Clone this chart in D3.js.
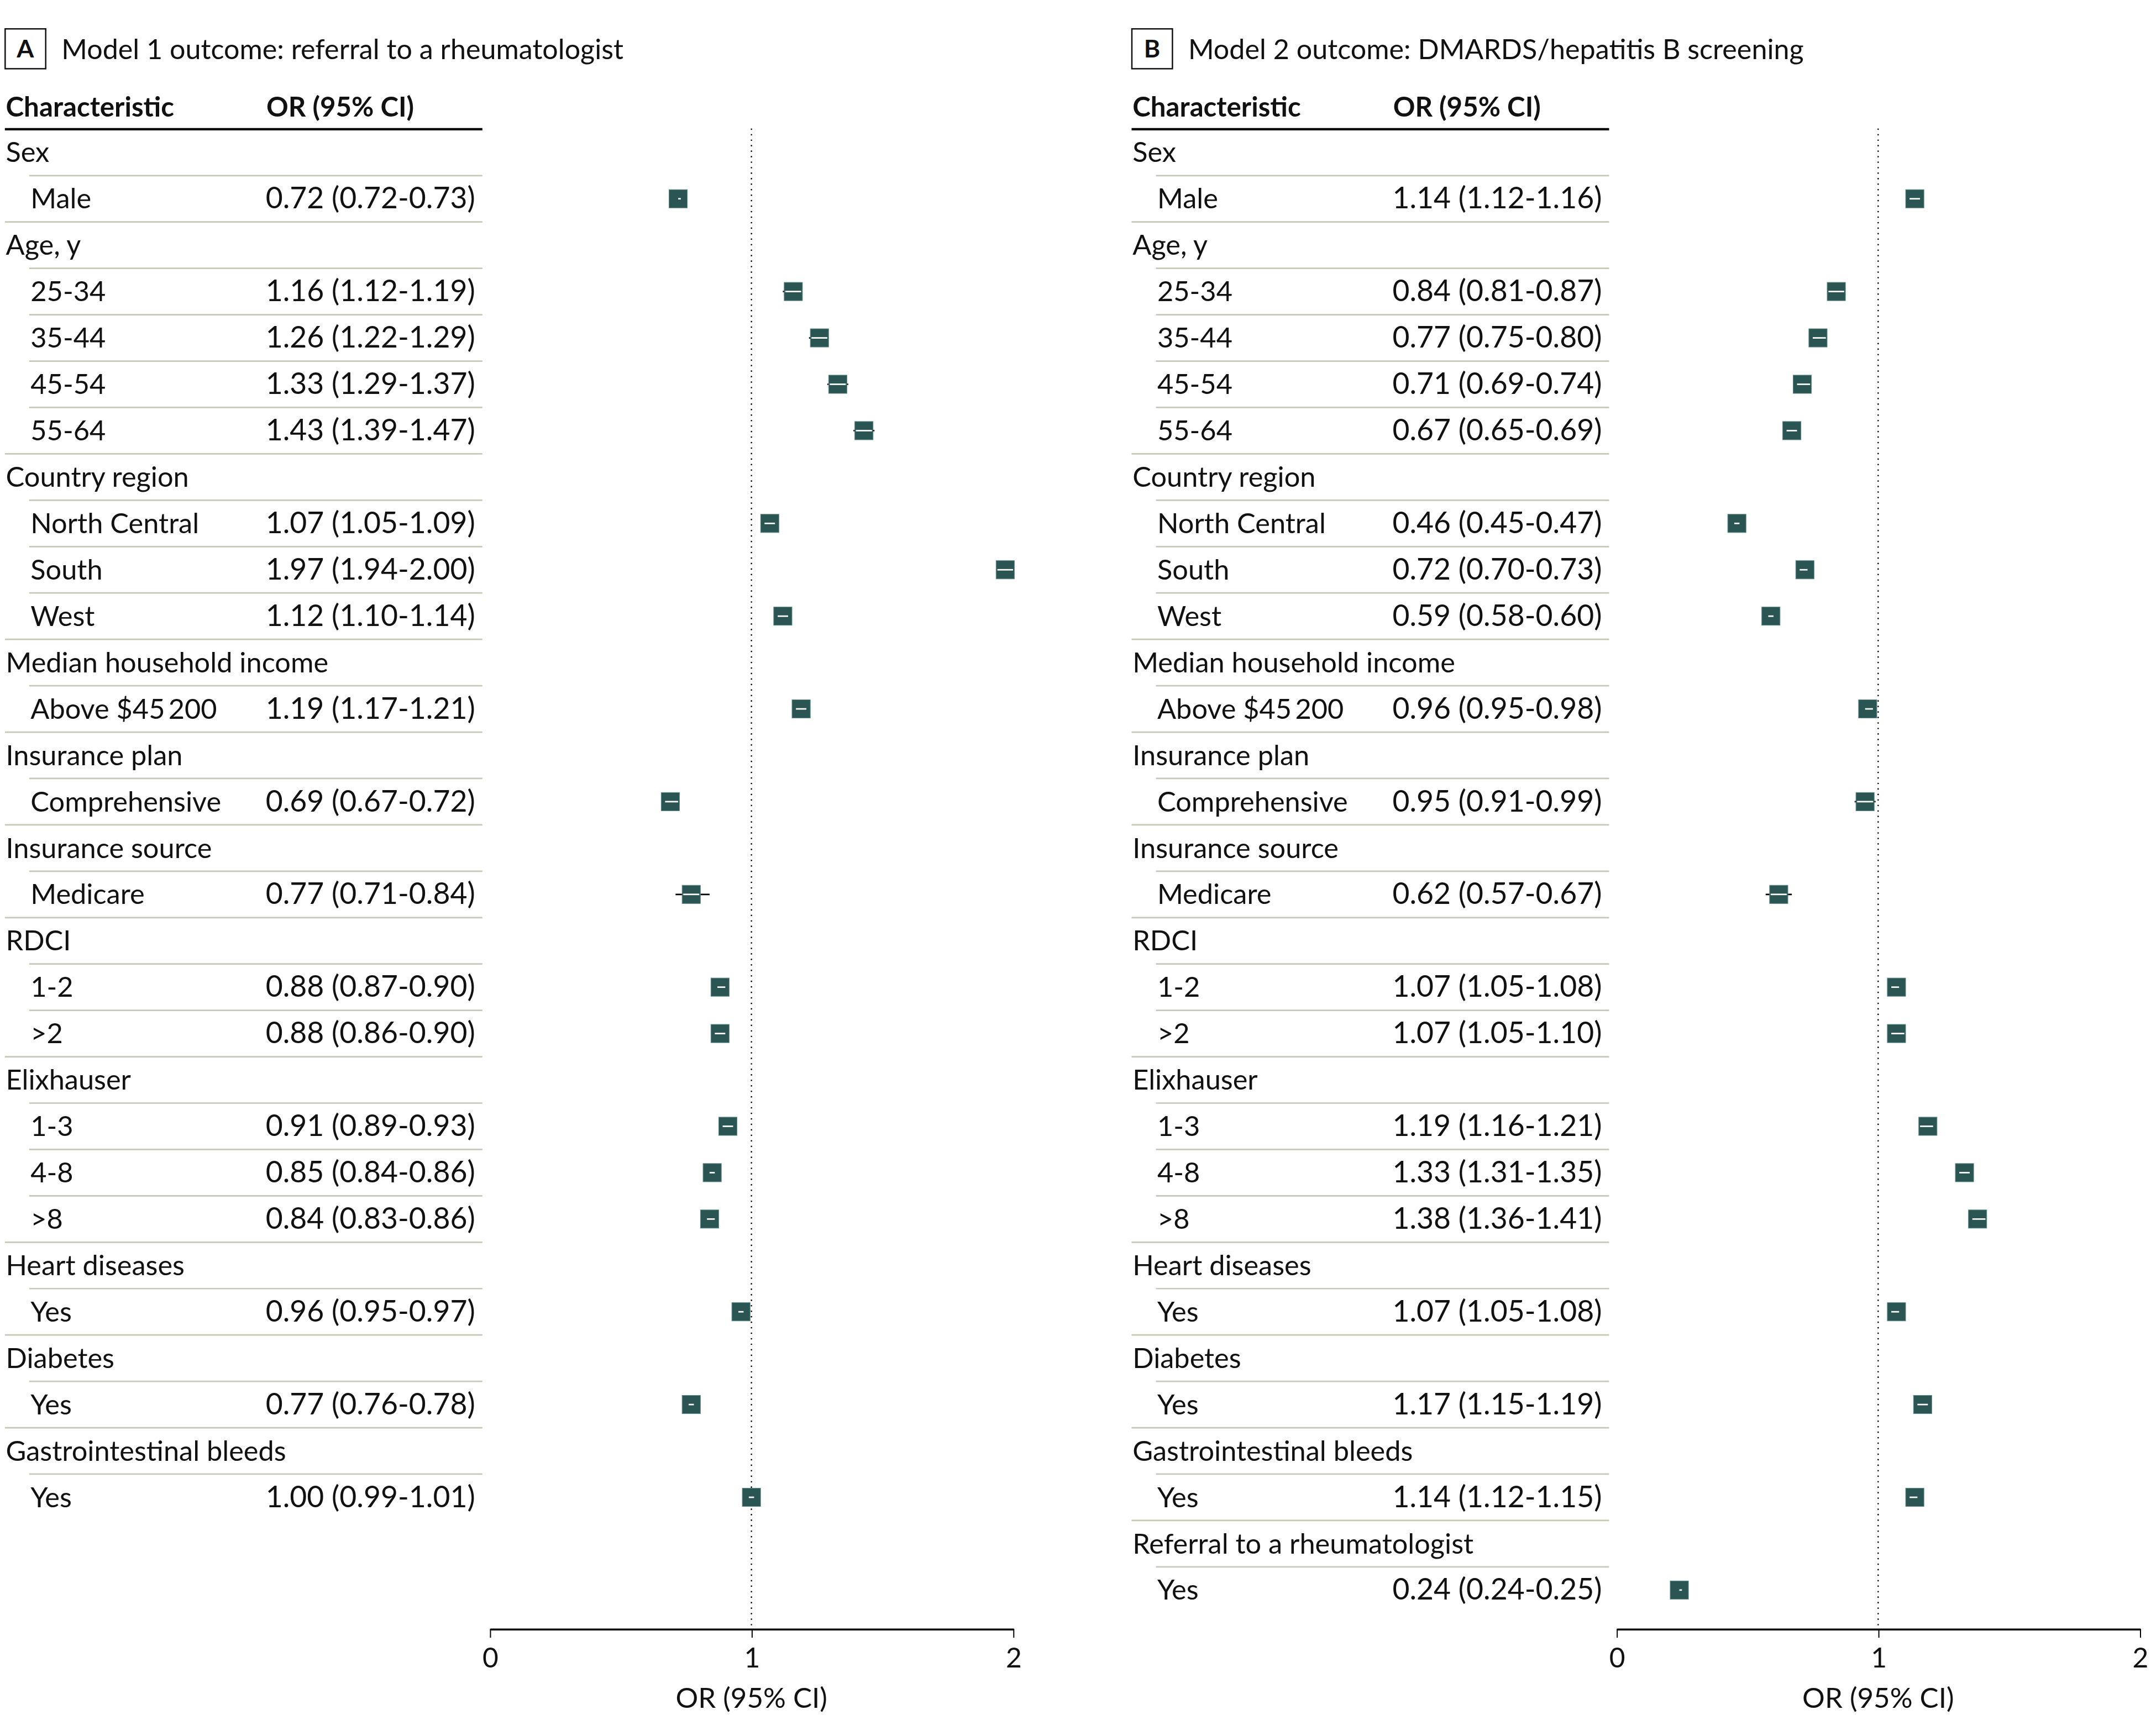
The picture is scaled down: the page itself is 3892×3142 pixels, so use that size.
<!DOCTYPE html>
<html>
<head>
<meta charset="utf-8">
<script src="https://cdn.jsdelivr.net/npm/d3@7"></script>
<style>
	body { margin: 0; background: #fff; }
	text { font-family: Lato, "Open Sans", sans-serif; fill: #111; }
</style>
</head>
<body>
<div class="svg-container"></div>
<script>
(function () {

	"use strict";

	// row labels
	var groups = [ "Sex", "Age, y", "Country region", "Median household income", "Insurance plan",
		"Insurance source", "RDCI", "Elixhauser", "Heart diseases", "Diabetes",
		"Gastrointestinal bleeds", "Referral to a rheumatologist" ];
	var levels = [ ["Male"], ["25-34", "35-44", "45-54", "55-64"], ["North Central", "South", "West"],
		["Above $45\u2009200"], ["Comprehensive"], ["Medicare"], ["1-2", ">2"], ["1-3", "4-8", ">8"],
		["Yes"], ["Yes"], ["Yes"], ["Yes"] ];

	// model 1: referral to a rheumatologist
	var or1 = [ 0.72, 1.16, 1.26, 1.33, 1.43, 1.07, 1.97, 1.12, 1.19, 0.69, 0.77, 0.88, 0.88, 0.91, 0.85, 0.84, 0.96, 0.77, 1.00 ];
	var lo1 = [ 0.72, 1.12, 1.22, 1.29, 1.39, 1.05, 1.94, 1.10, 1.17, 0.67, 0.71, 0.87, 0.86, 0.89, 0.84, 0.83, 0.95, 0.76, 0.99 ];
	var hi1 = [ 0.73, 1.19, 1.29, 1.37, 1.47, 1.09, 2.00, 1.14, 1.21, 0.72, 0.84, 0.90, 0.90, 0.93, 0.86, 0.86, 0.97, 0.78, 1.01 ];

	// model 2: DMARDS/hepatitis B screening
	var or2 = [ 1.14, 0.84, 0.77, 0.71, 0.67, 0.46, 0.72, 0.59, 0.96, 0.95, 0.62, 1.07, 1.07, 1.19, 1.33, 1.38, 1.07, 1.17, 1.14, 0.24 ];
	var lo2 = [ 1.12, 0.81, 0.75, 0.69, 0.65, 0.45, 0.70, 0.58, 0.95, 0.91, 0.57, 1.05, 1.05, 1.16, 1.31, 1.36, 1.05, 1.15, 1.12, 0.24 ];
	var hi2 = [ 1.16, 0.87, 0.80, 0.74, 0.69, 0.47, 0.73, 0.60, 0.98, 0.99, 0.67, 1.08, 1.10, 1.21, 1.35, 1.41, 1.08, 1.19, 1.15, 0.25 ];

	var tickValues = [ 0, 1, 2 ];
	var letters = [ "A", "B" ];
	var titles = [ "Model 1 outcome: referral to a rheumatologist", "Model 2 outcome: DMARDS/hepatitis B screening" ];

	var fill = "#2b5553";
	var rule = "#c6c9b9";
	var fmt = d3.format(".2f");

	var svg = d3.select(".svg-container").append("svg")
		.attr("width", 3892)
		.attr("height", 3142)
		.attr("viewBox", "0 0 1564 1263");

	var step = 33.74;
	var y = d3.scaleBand()
		.domain(d3.range(32))
		.range([ 94, 94 + 32 * step ]);

	var x = d3.scaleLinear()
		.domain([ 0, 2 ])
		.range([ 356, 736.6 ]);

	var axisY = 1185;

	function buildRows ( nGroups, or, lo, hi ) {
		var rows = [], k = 0;
		for ( var g = 0; g < nGroups; g++ ) {
			rows.push({ label: groups[g], head: true, last: false });
			levels[g].forEach(function ( l, j ) {
				rows.push({ label: l, head: false, last: j === levels[g].length - 1, or: or[k], lo: lo[k], hi: hi[k] });
				k++;
			});
		}
		return rows;
	}

	function drawPanel ( g, rows, letter, title ) {

		// title box
		g.append("rect")
			.attr("x", 3.5).attr("y", 21)
			.attr("width", 29.5).attr("height", 29)
			.attr("fill", "none").attr("stroke", "#111").attr("stroke-width", 1);
		g.append("text")
			.attr("x", 18.2).attr("y", 41.8)
			.attr("text-anchor", "middle")
			.attr("font-size", 18).attr("font-weight", 700)
			.text(letter);
		g.append("text")
			.attr("x", 44.5).attr("y", 43)
			.attr("font-size", 20.2)
			.text(title);

		// column headers
		g.append("text").attr("x", 4).attr("y", 85).attr("font-size", 19.8).attr("font-weight", 700).text("Characteristic");
		g.append("text").attr("x", 193.5).attr("y", 85).attr("font-size", 19.8).attr("font-weight", 700).text("OR (95% CI)");
		g.append("line")
			.attr("x1", 3.3).attr("x2", 350.6)
			.attr("y1", 94).attr("y2", 94)
			.attr("stroke", "#000").attr("stroke-width", 1.7);

		// row separators
		g.selectAll(".sep")
			.data(rows.slice(0, rows.length - 1))
			.enter()
			.append("line")
			.attr("class", "sep")
			.attr("x1", function ( d ) { return d.last ? 3.3 : 21; })
			.attr("x2", 350.6)
			.attr("y1", function ( d, i ) { return y(i) + step; })
			.attr("y2", function ( d, i ) { return y(i) + step; })
			.attr("stroke", rule).attr("stroke-width", 1.1);

		// labels
		g.selectAll(".lab")
			.data(rows)
			.enter()
			.append("text")
			.attr("class", "lab")
			.attr("x", function ( d ) { return d.head ? 4 : 22; })
			.attr("y", function ( d, i ) { return y(i) + step / 2 + 7.1; })
			.attr("font-size", 20.3)
			.text(function ( d ) { return d.label; });

		g.selectAll(".val")
			.data(rows)
			.enter()
			.filter(function ( d ) { return !d.head; })
			.append("text")
			.attr("class", "val")
			.attr("x", 193)
			.attr("y", function ( d ) { return y(rows.indexOf(d)) + step / 2 + 7.1; })
			.attr("font-size", 21.5)
			.text(function ( d ) { return fmt(d.or) + " (" + fmt(d.lo) + "-" + fmt(d.hi) + ")"; });

		// reference line at OR = 1
		g.append("line")
			.attr("x1", x(1)).attr("x2", x(1))
			.attr("y1", 94).attr("y2", axisY)
			.attr("stroke", "#000").attr("stroke-width", 1.1)
			.attr("stroke-dasharray", "0,4").attr("stroke-linecap", "round");

		// axis
		var axis = g.append("g")
			.attr("transform", "translate(0," + axisY + ")")
			.call(d3.axisBottom(x).tickValues(tickValues).tickFormat(d3.format("d"))
				.tickSize(6.5).tickSizeOuter(0).tickPadding(7.5));
		axis.select(".domain").attr("stroke", "#000").attr("stroke-width", 1.4);
		axis.selectAll(".tick line").attr("stroke", "#000").attr("stroke-width", 0.8);
		axis.selectAll(".tick text").attr("font-size", 20).attr("font-family", "Lato, sans-serif").attr("fill", "#111");
		g.append("text")
			.attr("x", x(1)).attr("y", 1242.6)
			.attr("text-anchor", "middle")
			.attr("font-size", 20.5)
			.text("OR (95% CI)");

		// estimates
		var half = 6.65;
		var pts = g.selectAll(".est")
			.data(rows.map(function ( d, i ) { d.i = i; return d; }).filter(function ( d ) { return !d.head; }))
			.enter()
			.append("g")
			.attr("class", "est")
			.attr("transform", function ( d ) { return "translate(0," + ( y(d.i) + step / 2 ) + ")"; });

		pts.append("line")
			.attr("x1", function ( d ) { return x(d.lo); })
			.attr("x2", function ( d ) { return x(d.hi); })
			.attr("stroke", "#000").attr("stroke-width", 1.1);

		pts.append("rect")
			.attr("x", function ( d ) { return x(d.or) - half; })
			.attr("y", -half)
			.attr("width", half * 2).attr("height", half * 2)
			.attr("fill", fill).attr("stroke", "#5d8d8a").attr("stroke-width", 0.4);

		pts.append("line")
			.attr("x1", function ( d ) { return Math.max(x(d.lo), x(d.or) - half + 0.8); })
			.attr("x2", function ( d ) { return Math.max(Math.min(x(d.hi), x(d.or) + half - 0.8), Math.max(x(d.lo), x(d.or) - half + 0.8) + 1.2); })
			.attr("stroke", "#fff").attr("stroke-width", 1.1);
	}

	var offsets = [ 0, 819.5 ];
	var panels = [ buildRows(11, or1, lo1, hi1), buildRows(12, or2, lo2, hi2) ];

	panels.forEach(function ( rows, p ) {
		var g = svg.append("g").attr("transform", "translate(" + offsets[p] + ",0)");
		drawPanel(g, rows, letters[p], titles[p]);
	});

})();
</script>
</body>
</html>
